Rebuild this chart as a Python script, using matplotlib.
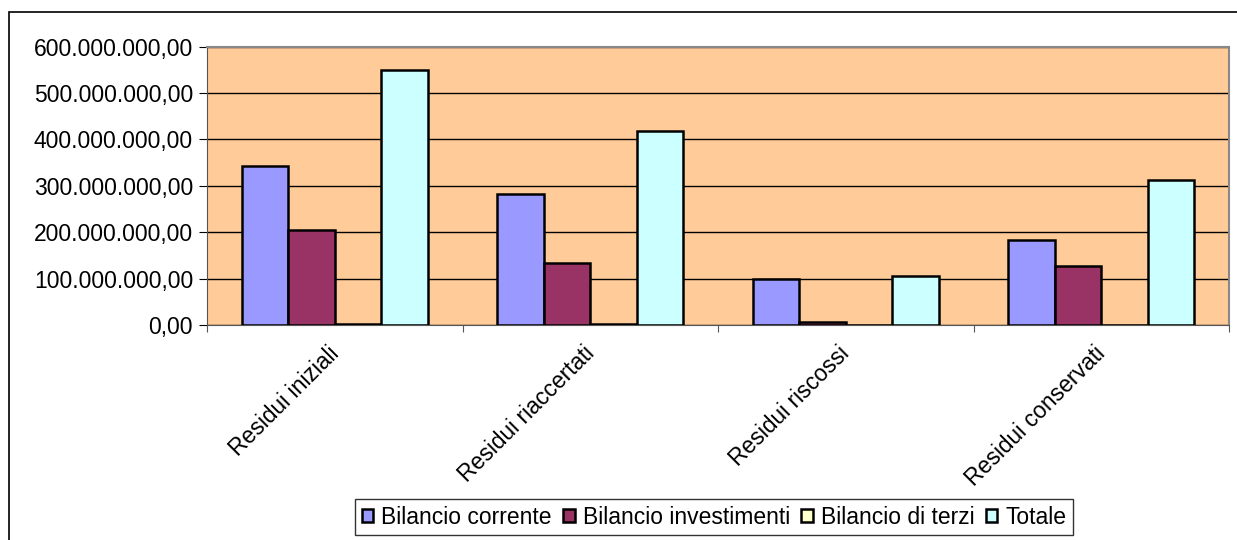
import matplotlib
matplotlib.use("Agg")
import matplotlib.pyplot as plt
from matplotlib.patches import Rectangle
from matplotlib.ticker import FuncFormatter
import numpy as np

plt.rcParams["font.family"] = ["Liberation Sans", "DejaVu Sans"]

categories = ["Residui iniziali", "Residui riaccertati", "Residui riscossi", "Residui conservati"]
series_names = ["Bilancio corrente", "Bilancio investimenti", "Bilancio di terzi", "Totale"]
bilancio_corrente = [343e6, 282e6, 99e6, 184e6]
bilancio_investimenti = [205e6, 133e6, 7e6, 127e6]
bilancio_terzi = [2e6, 2e6, 0, 0]
totale = [550e6, 419e6, 106e6, 313e6]
colors = ["#9999FF", "#993366", "#FFFFCC", "#CCFFFF"]

values = [bilancio_corrente, bilancio_investimenti, bilancio_terzi, totale]


def it_fmt(v, pos):
    s = f"{v:,.2f}"
    return s.replace(",", "X").replace(".", ",").replace("X", ".")


fig = plt.figure(figsize=(12.37, 5.40), dpi=100)
W, H = 1237, 540
ax = fig.add_axes([207 / W, 1 - 325 / H, (1229 - 207) / W, (325 - 46.7) / H])
ax.set_facecolor("#FFCC99")

# outer chart border
fig.patches.append(Rectangle((9 / W, -0.05), 1.1, 1 - 12 / H + 0.05, transform=fig.transFigure,
                             fill=False, edgecolor="black", linewidth=1.2, zorder=0))

x = np.arange(len(categories))
bw = 1 / 5.5
for i, (vals, name, c) in enumerate(zip(values, series_names, colors)):
    ax.bar(x - 1.5 * bw + i * bw, vals, width=bw, color=c, edgecolor="black",
           linewidth=1.8, label=name, zorder=3)

ax.set_xlim(-0.5, len(categories) - 0.5)
ax.set_ylim(0, 600e6)
ax.set_yticks(np.arange(0, 600e6 + 1, 100e6))
ax.yaxis.set_major_formatter(FuncFormatter(it_fmt))
ax.yaxis.grid(True, color="black", linewidth=1.0, zorder=1)
ax.set_axisbelow(True)

ax.set_xticks(np.arange(-0.5, len(categories), 1.0))
ax.set_xticklabels([])
ax.set_xticks(x - 0.03, minor=True)
ax.set_xticklabels(categories, minor=True, rotation=45, ha="right", rotation_mode="anchor",
                   fontsize=16.5)
ax.tick_params(axis="x", which="minor", length=0, pad=12)
ax.tick_params(axis="x", which="major", length=5, direction="out", color="#555555")
ax.tick_params(axis="y", length=6, direction="out", labelsize=16.5, pad=4)

for s in ["top", "right"]:
    ax.spines[s].set_color("#888888")
    ax.spines[s].set_linewidth(1.5)
ax.spines["left"].set_color("#555555")
ax.spines["bottom"].set_color("#555555")

leg = fig.legend(loc="center", bbox_to_anchor=(714 / W, 1 - 517 / H), ncol=4, frameon=True,
                 fancybox=False, edgecolor="black", fontsize=16.5, handlelength=0.5,
                 handleheight=0.5, handletextpad=0.35, columnspacing=0.5, borderpad=0.3)
leg.get_frame().set_linewidth(1.0)

fig.savefig("out.png", dpi=100)
